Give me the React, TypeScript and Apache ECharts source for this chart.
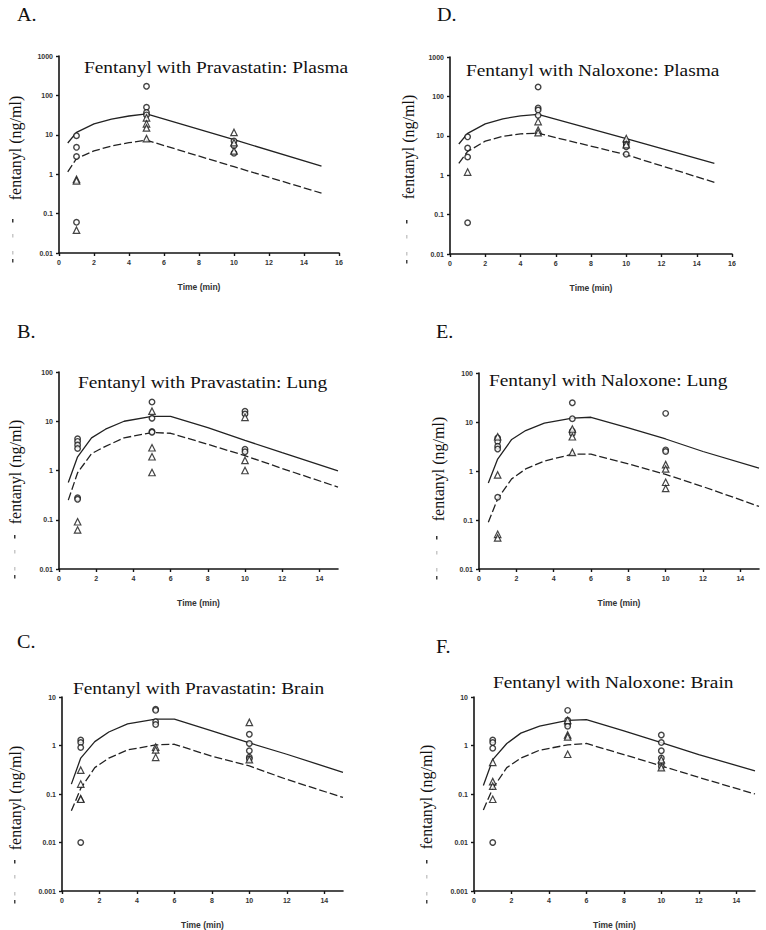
import React, { useEffect, useRef } from "react";
import * as echarts from "echarts";

// ---------- DATA ----------
const OBS_TIMES = [1, 5, 10];
const PLASMA_TIMES = [0.5, 1, 2, 3, 4, 5, 10, 15];
const TISSUE_TIMES = [0.5, 1, 1.75, 2.5, 3.5, 5, 6, 8, 10, 12, 15];
const X_TICKS_16 = [0, 2, 4, 6, 8, 10, 12, 14, 16];
const X_TICKS_15 = [0, 2, 4, 6, 8, 10, 12, 14];

// A. Pravastatin: Plasma
const A_CIRCLES = [[9.5, 4.8, 2.8, 0.06], [170, 50, 37, 32], [7, 5.3, 3.4]];
const A_TRIANGLES = [[0.74, 0.68, 0.038], [27, 19, 15, 8], [11.5, 6.3, 3.9]];
const A_SOLID = [6.2, 11.5, 19, 25, 30, 34, 7.5, 1.6];
const A_DASHED = [1.15, 2.5, 3.9, 5.2, 6.3, 7.3, 1.55, 0.33];

// D. Naloxone: Plasma
const D_CIRCLES = [[9.4, 4.9, 2.9, 0.062], [173, 51, 45, 33], [7, 6.2, 5.3, 3.4]];
const D_TRIANGLES = [[1.2], [23, 14, 12], [8.5, 6]];
const D_SOLID = [6.2, 11.5, 20, 27, 32, 35, 8.5, 2.0];
const D_DASHED = [2.0, 4.0, 7.3, 9.7, 11.2, 11.6, 3.3, 0.66];

// B. Pravastatin: Lung
const B_CIRCLES = [[4.4, 3.9, 3.3, 2.8, 0.28, 0.26], [24.5, 11.5, 6.2, 6.0], [16, 14, 2.7, 2.4]];
const B_TRIANGLES = [[0.091, 0.062], [16, 2.9, 1.9, 0.91], [12, 1.6, 1.0]];
const B_SOLID = [0.57, 1.9, 4.6, 6.9, 10, 12.6, 12.6, 7.4, 4.1, 2.3, 0.98];
const B_DASHED = [0.25, 0.9, 2.2, 3.1, 4.6, 5.9, 5.7, 3.4, 2.0, 1.1, 0.46];

// E. Naloxone: Lung
const E_CIRCLES = [[4.7, 4.0, 3.2, 2.8, 0.29], [24.6, 11.7, 6.5, 5.8], [15, 2.7, 2.5]];
const E_TRIANGLES = [[5.0, 0.83, 0.051, 0.043], [7.2, 5.0, 2.4], [1.35, 1.1, 0.59, 0.44]];
const E_SOLID = [0.57, 1.75, 4.4, 6.7, 9.5, 12, 12.5, 7.6, 4.5, 2.5, 1.15];
const E_DASHED = [0.09, 0.27, 0.69, 1.1, 1.6, 2.2, 2.2, 1.4, 0.85, 0.48, 0.19];

// C. Pravastatin: Brain
const C_CIRCLES = [[1.3, 1.15, 0.91, 0.01], [5.6, 5.3, 3.1, 2.7], [1.7, 1.1, 0.78, 0.57, 0.53]];
const C_TRIANGLES = [[0.31, 0.16, 0.08, 0.078], [0.93, 0.81, 0.57], [3.0, 0.51]];
const C_SOLID = [0.16, 0.55, 1.2, 1.9, 2.8, 3.5, 3.5, 2.0, 1.13, 0.66, 0.28];
const C_DASHED = [0.045, 0.13, 0.35, 0.55, 0.81, 1.03, 1.06, 0.6, 0.38, 0.2, 0.085];

// F. Naloxone: Brain
const F_CIRCLES = [[1.3, 1.15, 0.88, 0.01], [5.3, 3.3, 2.8, 2.5], [1.65, 1.15, 0.78, 0.55, 0.43, 0.37]];
const F_TRIANGLES = [[0.45, 0.18, 0.145, 0.078], [3.3, 1.65, 1.5, 0.66], [0.51, 0.35]];
const F_SOLID = [0.15, 0.51, 1.1, 1.8, 2.5, 3.3, 3.4, 2.0, 1.15, 0.65, 0.3];
const F_DASHED = [0.047, 0.13, 0.35, 0.55, 0.8, 1.03, 1.1, 0.65, 0.38, 0.22, 0.1];

const TITLES = [
  "Fentanyl with Pravastatin: Plasma",
  "Fentanyl with Naloxone: Plasma",
  "Fentanyl with Pravastatin: Lung",
  "Fentanyl with Naloxone: Lung",
  "Fentanyl with Pravastatin: Brain",
  "Fentanyl with Naloxone: Brain",
];
const LETTERS = ["A.", "D.", "B.", "E.", "C.", "F."];
const Y_NAME = "fentanyl (ng/ml)";
const X_NAME = "Time (min)";

// ---------- LAYOUT ----------
type Panel = {
  grid: { left: number; top: number; width: number; height: number };
  xMax: number;
  xTicks: number[];
  yMin: number;
  yMax: number;
  circles: number[][];
  triangles: number[][];
  curveTimes: number[];
  solid: number[];
  dashed: number[];
  titleX: number;
  titleY: number;
  letterX: number;
  letterY: number;
  yNameX: number;
  yNameY: number;
  markX: number;
};

const PANELS: Panel[] = [
  { grid: { left: 59, top: 56, width: 280, height: 197 }, xMax: 16, xTicks: X_TICKS_16, yMin: 0.01, yMax: 1000,
    circles: A_CIRCLES, triangles: A_TRIANGLES, curveTimes: PLASMA_TIMES, solid: A_SOLID, dashed: A_DASHED,
    titleX: 84, titleY: 67, letterX: 17, letterY: 15, yNameX: 15, yNameY: 148, markX: 12 },
  { grid: { left: 450, top: 57, width: 282, height: 197 }, xMax: 16, xTicks: X_TICKS_16, yMin: 0.01, yMax: 1000,
    circles: D_CIRCLES, triangles: D_TRIANGLES, curveTimes: PLASMA_TIMES, solid: D_SOLID, dashed: D_DASHED,
    titleX: 466, titleY: 70, letterX: 437, letterY: 15, yNameX: 408, yNameY: 147, markX: 406 },
  { grid: { left: 59, top: 372, width: 279, height: 197 }, xMax: 15, xTicks: X_TICKS_15, yMin: 0.01, yMax: 100,
    circles: B_CIRCLES, triangles: B_TRIANGLES, curveTimes: TISSUE_TIMES, solid: B_SOLID, dashed: B_DASHED,
    titleX: 78, titleY: 382, letterX: 17, letterY: 332, yNameX: 15, yNameY: 472, markX: 14 },
  { grid: { left: 479, top: 373, width: 280, height: 196 }, xMax: 15, xTicks: X_TICKS_15, yMin: 0.01, yMax: 100,
    circles: E_CIRCLES, triangles: E_TRIANGLES, curveTimes: TISSUE_TIMES, solid: E_SOLID, dashed: E_DASHED,
    titleX: 489, titleY: 380, letterX: 436, letterY: 332, yNameX: 438, yNameY: 469, markX: 436 },
  { grid: { left: 62, top: 697, width: 281, height: 196 }, xMax: 15, xTicks: X_TICKS_15, yMin: 0.001, yMax: 10,
    circles: C_CIRCLES, triangles: C_TRIANGLES, curveTimes: TISSUE_TIMES, solid: C_SOLID, dashed: C_DASHED,
    titleX: 73, titleY: 688, letterX: 17, letterY: 642, yNameX: 15, yNameY: 798, markX: 14 },
  { grid: { left: 474, top: 697, width: 281, height: 196 }, xMax: 15, xTicks: X_TICKS_15, yMin: 0.001, yMax: 10,
    circles: F_CIRCLES, triangles: F_TRIANGLES, curveTimes: TISSUE_TIMES, solid: F_SOLID, dashed: F_DASHED,
    titleX: 493, titleY: 682, letterX: 436, letterY: 647, yNameX: 426, yNameY: 797, markX: 426 },
];

const INK = "#151515";
const SERIF = '"Liberation Serif", "Times New Roman", serif';
const SANS = '"Liberation Sans", Arial, sans-serif';

const yFmt = (v: number) => {
  if (v >= 1) return String(Math.round(v));
  const d = Math.round(-Math.log10(v));
  return v.toFixed(d);
};

const obsPoints = (groups: number[][]) => {
  const pts: number[][] = [];
  groups.forEach((g, i) => g.forEach((v) => pts.push([OBS_TIMES[i], v])));
  return pts;
};

function buildOption() {
  const grid: any[] = [];
  const xAxis: any[] = [];
  const yAxis: any[] = [];
  const series: any[] = [];
  const graphic: any[] = [];

  PANELS.forEach((p, i) => {
    grid.push({ ...p.grid, containLabel: false });
    xAxis.push({
      type: "value",
      gridIndex: i,
      min: 0,
      max: p.xMax,
      interval: 2,
      name: X_NAME,
      nameLocation: "middle",
      nameGap: 29,
      nameTextStyle: { fontFamily: SANS, fontSize: 8.5, fontWeight: "bold", color: "#333" },
      axisLine: { show: true, lineStyle: { color: INK, width: 1.6 } },
      axisTick: { show: true, length: 3, customValues: p.xTicks, lineStyle: { color: INK, width: 1.4 } },
      axisLabel: { customValues: p.xTicks, fontFamily: SANS, fontSize: 7, fontWeight: "bold", color: "#333", margin: 6 },
      splitLine: { show: false },
    });
    yAxis.push({
      type: "log",
      logBase: 10,
      gridIndex: i,
      min: p.yMin,
      max: p.yMax,
      axisLine: { show: true, onZero: false, lineStyle: { color: INK, width: 1.6 } },
      axisTick: { show: true, length: 3, lineStyle: { color: INK, width: 1.4 } },
      minorTick: { show: false },
      axisLabel: { formatter: yFmt, fontFamily: SANS, fontSize: 7, fontWeight: "bold", color: "#333", margin: 6 },
      splitLine: { show: false },
    });
    series.push({
      type: "line",
      xAxisIndex: i,
      yAxisIndex: i,
      data: p.curveTimes.map((t, k) => [t, p.solid[k]]),
      showSymbol: false,
      lineStyle: { color: "#222", width: 1.3 },
      z: 2,
    });
    series.push({
      type: "line",
      xAxisIndex: i,
      yAxisIndex: i,
      data: p.curveTimes.map((t, k) => [t, p.dashed[k]]),
      showSymbol: false,
      lineStyle: { color: "#222", width: 1.3, type: [8, 3] },
      z: 2,
    });
    series.push({
      type: "scatter",
      xAxisIndex: i,
      yAxisIndex: i,
      data: obsPoints(p.circles),
      symbol: "circle",
      symbolSize: 5.5,
      itemStyle: { color: "#fff", borderColor: INK, borderWidth: 1.4 },
      z: 3,
    });
    series.push({
      type: "scatter",
      xAxisIndex: i,
      yAxisIndex: i,
      data: obsPoints(p.triangles),
      symbol: "triangle",
      symbolSize: 6.5,
      itemStyle: { color: "#fff", borderColor: INK, borderWidth: 1.2 },
      z: 3,
    });

    graphic.push({
      type: "text",
      x: p.titleX,
      y: p.titleY,
      scaleX: 1.14,
      style: { text: TITLES[i], fontFamily: SERIF, fontSize: 17, fill: "#111", textAlign: "left", textVerticalAlign: "middle" },
    });
    graphic.push({
      type: "text",
      x: p.letterX,
      y: p.letterY,
      scaleX: 1.12,
      style: { text: LETTERS[i], fontFamily: SERIF, fontSize: 18, fill: "#111", textAlign: "left", textVerticalAlign: "middle" },
    });
    graphic.push({
      type: "text",
      x: p.yNameX,
      y: p.yNameY,
      rotation: Math.PI / 2,
      style: { text: Y_NAME, fontFamily: SERIF, fontSize: 16, fill: "#111", textAlign: "center", textVerticalAlign: "middle" },
    });
    const top = p.grid.top;
    [
      [163, "#333"],
      [178, "#c8c8c8"],
      [195, "#c8c8c8"],
      [203, "#444"],
    ].forEach(([dy, c]) => {
      graphic.push({
        type: "rect",
        shape: { x: p.markX, y: top + (dy as number), width: 1.5, height: 3.5 },
        style: { fill: c as string },
        silent: true,
      });
    });
  });

  return { animation: false, backgroundColor: "#fff", grid, xAxis, yAxis, series, graphic };
}

export default function App() {
  const ref = useRef<HTMLDivElement>(null);
  useEffect(() => {
    if (!ref.current) return;
    const chart = echarts.init(ref.current, undefined, { renderer: "svg" });
    chart.setOption(buildOption() as any);
    return () => chart.dispose();
  }, []);
  return (
    <div
      ref={ref}
      style={{ position: "absolute", left: 0, top: 0, width: 766, height: 930, background: "#fff" }}
    />
  );
}
